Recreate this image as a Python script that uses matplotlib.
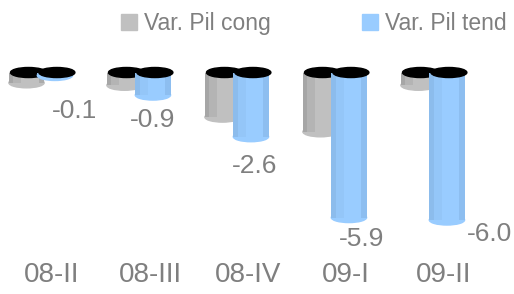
import matplotlib
matplotlib.use("Agg")
import matplotlib.pyplot as plt
from matplotlib.patches import Ellipse, Patch

plt.rcParams['font.family'] = ['Liberation Sans', 'DejaVu Sans']

# data
categories = ['08-II', '08-III', '08-IV', '09-I', '09-II']
pil_cong = [-0.4, -0.5, -1.8, -2.4, -0.5]
pil_tend = [-0.1, -0.9, -2.6, -5.9, -6.0]
series_names = ['Var. Pil cong', 'Var. Pil tend']

# label offsets (pixels) of the value labels, from the bar end
lab_dx = [20, 0, 4, 13, 43]
lab_dy = [-36, -25, -29, -21, -14]

txt = '#7f7f7f'
dpi = 100
fig = plt.figure(figsize=(5.14, 2.94), dpi=dpi)
ax = fig.add_axes([0, 0, 1, 1])
ax.axis('off')
ax.set_xlim(-52 / 98, (514 - 52) / 98)
ax.set_ylim(-221 / 24.5, 73 / 24.5)

w = 0.36
eh = 0.41
# shading strips: (start, end, color) as fractions of bar width
shades = [
    [(0, 0.12, '#a6a6a6'), (0.12, 0.35, '#b4b4b4'), (0.35, 0.85, '#c0c0c0'), (0.85, 1, '#ababab')],
    [(0, 0.12, '#8cbcec'), (0.12, 0.35, '#94c6f8'), (0.35, 0.85, '#99ccff'), (0.85, 1, '#8dbef0')],
]
offsets = [-0.26, 0.03]

for s, vals in enumerate([pil_cong, pil_tend]):
    z = 1 + s
    for i, v in enumerate(vals):
        xc = i + offsets[s]
        left = xc - w / 2
        ax.add_patch(Ellipse((xc, v), w, eh, color=shades[s][2][2], zorder=z))
        for f1, f2, c in shades[s]:
            ax.bar(left + f1 * w, v, (f2 - f1) * w, align='edge', color=c,
                   linewidth=0, zorder=z + 0.3)
        ax.add_patch(Ellipse((xc + 0.02, 0.02), w * 1.02, eh, color='black', zorder=z + 0.6))

for i, v in enumerate(pil_tend):
    ax.annotate(f'{v:.1f}', (i + offsets[1], v), xytext=(lab_dx[i], lab_dy[i]),
                textcoords='offset pixels', ha='center', va='center',
                fontsize=19, color=txt, zorder=5)

for i, c in enumerate(categories):
    ax.text(i, -(275 - 73) / 24.5, c, ha='center', va='center', fontsize=20, color=txt)

handles = [Patch(color='#c0c0c0'), Patch(color='#99ccff')]
ax.legend(handles, series_names, loc='upper center', bbox_to_anchor=(314 / 514, 1.03),
          ncol=2, frameon=False, fontsize=16.5, labelcolor=txt, handlelength=0.7,
          handleheight=0.7, handletextpad=0.3, columnspacing=4)

fig.savefig('out.png', dpi=dpi)
